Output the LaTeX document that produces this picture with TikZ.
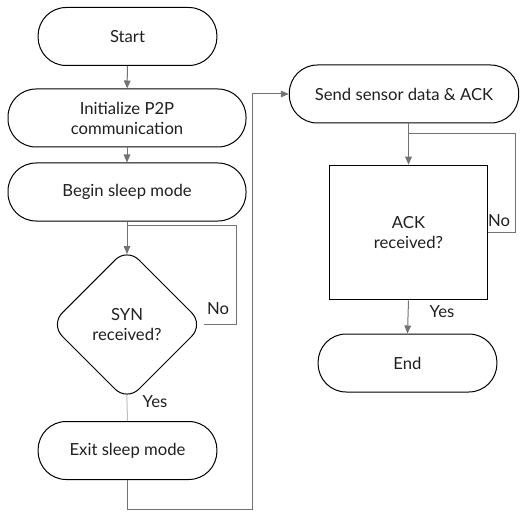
\documentclass[tikz,border=0pt]{standalone}
\usepackage{fontspec}
\setmainfont{Lato}
\usetikzlibrary{shapes.geometric,arrows.meta}
\begin{document}
\begin{tikzpicture}[x=0.75pt,y=-0.75pt,
  every node/.style={font=\fontsize{12.5}{15}\selectfont, text=black!88},
  term/.style={draw=black, line width=0.75pt, rectangle, rounded corners=21pt, minimum height=43.5pt, align=center, inner sep=0pt},
  decis/.style={draw=black, line width=0.75pt, diamond, aspect=1, minimum width=115pt, minimum height=115pt, rounded corners=12.5pt, align=center, inner sep=0pt},
  boxdec/.style={draw=black, line width=0.75pt, rectangle, minimum width=118pt, minimum height=101pt, align=center, inner sep=0pt},
  conn/.style={draw=black!55, line width=0.75pt},
  arr/.style={conn, -{Triangle[length=6pt,width=5pt]}},
  lbl/.style={inner sep=0pt}
]
\useasboundingbox (0,0) rectangle (520,513);
\node[term, minimum width=134pt] (start) at (127.5,36.5) {Start};
\node[term, minimum width=178.5pt] (init) at (127,118) {Initialize P2P\\communication};
\node[term, minimum width=178.5pt] (sleep) at (127,192) {Begin sleep mode};
\node[decis] (syn) at (127,324.5) {SYN\\received?};
\node[term, minimum width=134pt] (exit) at (127.5,450.5) {Exit sleep mode};
\node[term, minimum width=172pt] (send) at (404,94) {Send sensor data \& ACK};
\node[boxdec] (ack) at (408.5,232.5) {ACK\\received?};
\node[term, minimum width=134pt] (end) at (407.5,363) {End};

\coordinate (m1) at (127,225);
\coordinate (n1) at (236,225);
\coordinate (n2) at (236,324.5);
\coordinate (e1) at (127.5,509);
\coordinate (e2) at (252,509);
\coordinate (e3) at (252,94);
\coordinate (m2) at (408.5,134);
\coordinate (a1) at (515,134);
\coordinate (a2) at (515,232.5);

\draw[arr] (start) -- (init);
\draw[arr] (init) -- (sleep);
\draw[arr, shorten >=-5pt] (sleep.south) -- (syn.north);
\draw[conn] (syn.east) -- (n2) -- (n1) -- (m1);
\draw[draw=black!25, line width=0.75pt, shorten <=-5pt] (syn.south) -- (exit.north);
\draw[arr] (exit.south) -- (e1) -- (e2) -- (e3) -- (send.west);
\draw[arr] (send.south -| ack.north) -- (ack.north);
\draw[conn] (ack.east) -- (a2) -- (a1) -- (m2);
\draw[arr] (ack.south) -- (end.north);

\node[lbl] (no1) at (218,309) {No};
\node[lbl] (yes1) at (155,402) {Yes};
\node[lbl] (no2) at (499,221) {No};
\node[lbl] (yes2) at (442,312) {Yes};
\end{tikzpicture}
\end{document}
